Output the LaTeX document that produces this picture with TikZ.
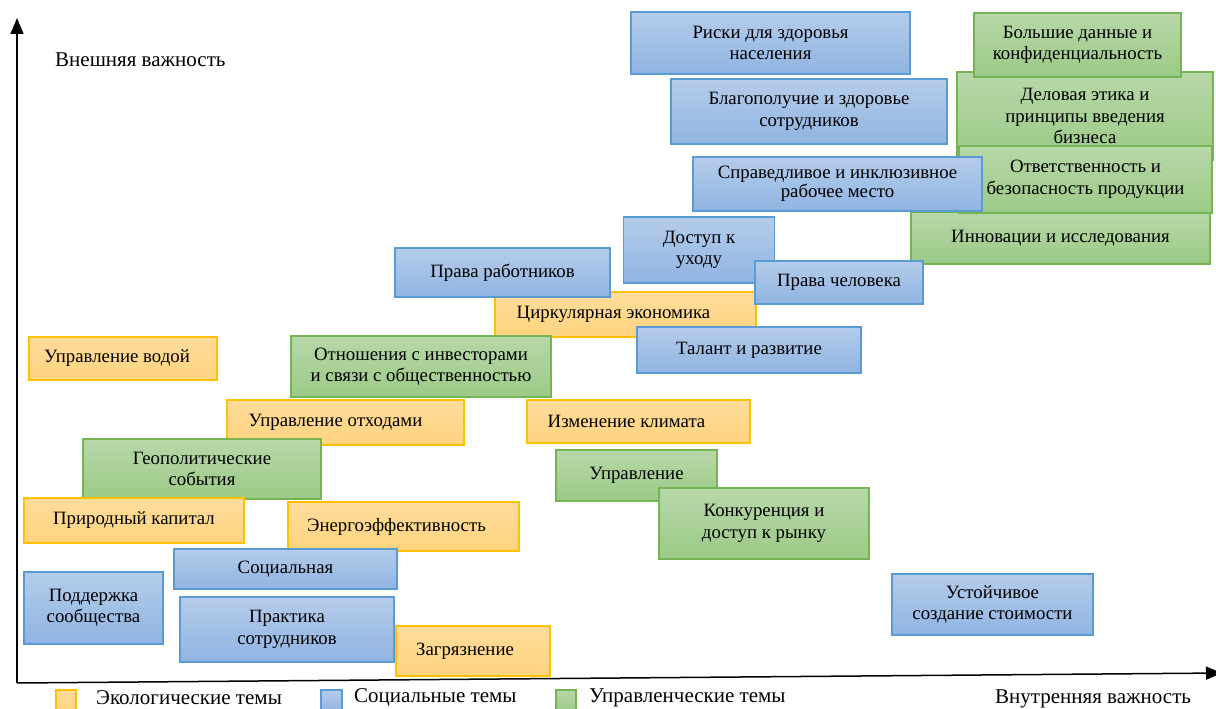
\documentclass[tikz,border=0pt]{standalone}
\usepackage{fontspec}
\setmainfont{Liberation Serif}
\usepackage{xcolor}
\usetikzlibrary{arrows.meta}

\definecolor{socTop}{HTML}{B4CCEA}
\definecolor{socBot}{HTML}{90B4E2}
\definecolor{socLine}{HTML}{5B9BD5}
\definecolor{envTop}{HTML}{FFDC9C}
\definecolor{envBot}{HTML}{FFD47E}
\definecolor{envLine}{HTML}{FFC000}
\definecolor{govTop}{HTML}{B7D8A9}
\definecolor{govBot}{HTML}{9BCA86}
\definecolor{govLine}{HTML}{76B352}

\begin{document}
\begin{tikzpicture}[
  x=1pt, y=-1pt,
  font=\fontsize{21}{22}\selectfont,
  theme/.style={rectangle, align=center, line width=1.5pt, inner sep=2pt,
    font=\fontsize{18.8}{21.5}\selectfont},
  soc/.style={theme, draw=socLine, top color=socTop, bottom color=socBot},
  env/.style={theme, draw=envLine, top color=envTop, bottom color=envBot},
  gov/.style={theme, draw=govLine, top color=govTop, bottom color=govBot},
  nudge/.style={execute at begin node={\hspace*{#1}}},
  axis/.style={line width=1.5pt, -{Triangle[length=16pt, width=13pt]}},
  legend/.style={anchor=west, inner sep=0pt}
]
\useasboundingbox (0,0) rectangle (1216,709);

% axes
\coordinate (origin) at (17,683);
\coordinate (ytip) at (17,18);
\coordinate (xtip) at (1222,673);
\draw[axis] (origin) -- (ytip);
\draw[axis] (origin) -- (xtip);
\node[legend] (ylabel) at (55,60) {Внешняя важность};
\node[legend] (xlabel) at (995,699) {Внутренняя важность};

% governance, top right
\node[gov, minimum width=256pt, minimum height=88pt] (ethics) at (1085,116) {Деловая этика и\\принципы введения\\бизнеса};
\node[gov, minimum width=207pt, minimum height=64pt] (bigdata) at (1077.5,45) {Большие данные и\\конфиденциальность};
\node[gov, minimum width=299pt, minimum height=52pt] (innovation) at (1060.5,238) {Инновации и исследования};
\node[gov, minimum width=253pt, minimum height=67pt] (product) at (1085.5,179.5) {Ответственность и\\безопасность продукции};

% social, top
\node[soc, minimum width=279pt, minimum height=62pt] (risk) at (770.5,43) {Риски для здоровья\\населения};
\node[soc, minimum width=276pt, minimum height=65pt] (welfare) at (809,111.5) {Благополучие и здоровье\\сотрудников};
\node[soc, minimum width=289pt, minimum height=54pt, font=\fontsize{18.8}{17}\selectfont] (inclusive) at (837.5,184) {Справедливое и инклюзивное\\рабочее место};

% middle band
\node[env, nudge=-24pt, minimum width=261pt, minimum height=45pt] (circular) at (625.5,314.5) {Циркулярная экономика};
\node[soc, minimum width=215pt, minimum height=49pt] (workers) at (502.5,272.5) {Права работников};
\node[soc, minimum width=151pt, minimum height=66pt] (care) at (699,250) {Доступ к\\уходу};
\node[soc, minimum width=168pt, minimum height=43pt] (human) at (839,282.5) {Права человека};
\node[soc, minimum width=224pt, minimum height=46pt] (talent) at (749,350) {Талант и развитие};
\node[gov, minimum width=260pt, minimum height=61pt] (investors) at (421,366.5) {Отношения с инвесторами\\и связи с общественностью};
\node[env, nudge=-12pt, minimum width=188pt, minimum height=43pt] (water) at (123,358.5) {Управление водой};

% lower left
\node[env, nudge=-20pt, minimum width=237pt, minimum height=45pt] (waste) at (345.5,422.5) {Управление отходами};
\node[env, nudge=-24pt, minimum width=223pt, minimum height=43pt] (climate) at (638.5,421.5) {Изменение климата};
\node[gov, minimum width=238pt, minimum height=60pt] (geopolitics) at (202,469) {Геополитические\\события};
\node[env, minimum width=220pt, minimum height=45pt] (natural) at (134,520.5) {Природный капитал};
\node[env, nudge=-14pt, minimum width=231pt, minimum height=49pt] (energy) at (403.5,526.5) {Энергоэффективность};
\node[soc, minimum width=223pt, minimum height=40pt] (social) at (285.5,569) {Социальная};
\node[soc, minimum width=139pt, minimum height=72pt] (community) at (93.5,608) {Поддержка\\сообщества};
\node[soc, minimum width=214pt, minimum height=65pt] (practice) at (287,629.5) {Практика\\сотрудников};
\node[env, nudge=-16pt, minimum width=154pt, minimum height=50pt] (pollution) at (473,651) {Загрязнение};

% lower right
\node[gov, minimum width=161pt, minimum height=51pt] (governance) at (636.5,475.5) {Управление};
\node[gov, minimum width=210pt, minimum height=71pt] (competition) at (764,523.5) {Конкуренция и\\доступ к рынку};
\node[soc, minimum width=201pt, minimum height=61pt] (value) at (992.5,604.5) {Устойчивое\\создание стоимости};

% legend
\node[env, minimum width=20pt, minimum height=22pt] (envkey) at (66,701) {};
\node[legend] (envtext) at (96,698) {Экологические темы};
\node[soc, minimum width=21pt, minimum height=22pt] (sockey) at (331.5,701) {};
\node[legend] (soctext) at (354,698) {Социальные темы};
\node[gov, minimum width=20pt, minimum height=22pt] (govkey) at (566,701) {};
\node[legend] (govtext) at (589,698) {Управленческие темы};
\end{tikzpicture}
\end{document}
